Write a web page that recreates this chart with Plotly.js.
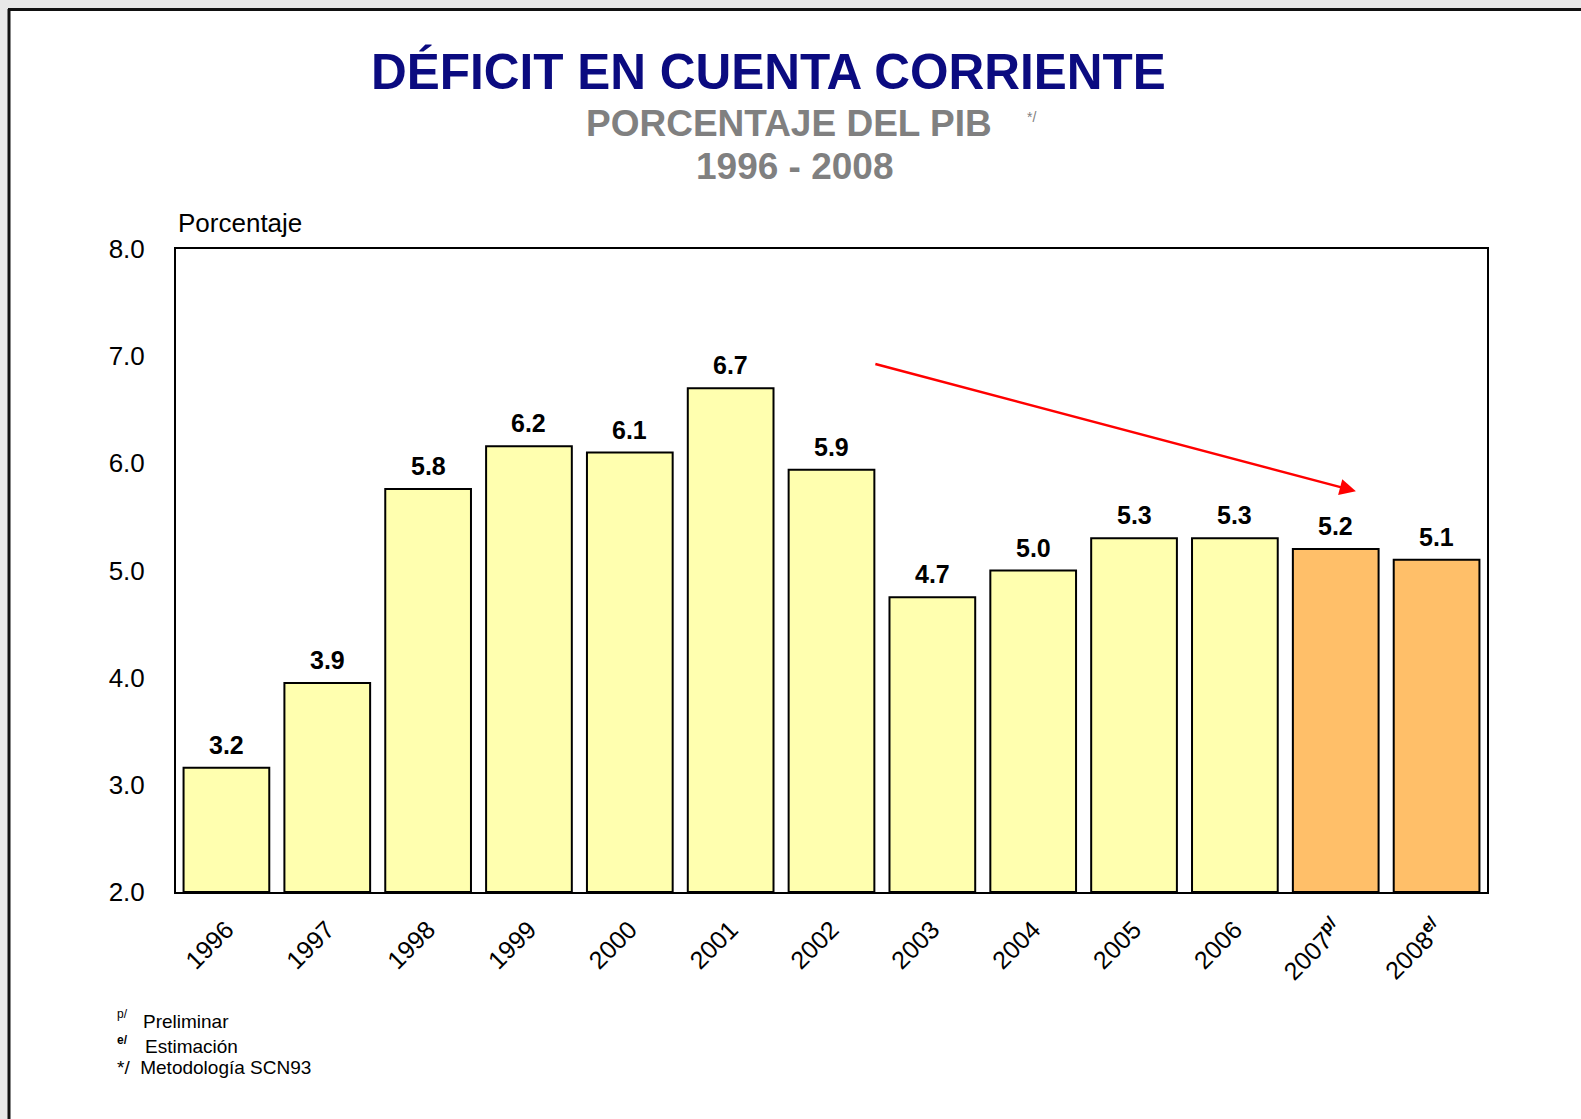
<!DOCTYPE html>
<html>
<head>
<meta charset="utf-8">
<script src="https://cdn.plot.ly/plotly-3.0.1.min.js"></script>
<style>html,body{margin:0;padding:0;background:#e8e8e8;}#chart{width:1581px;height:1119px;}</style>
</head>
<body>
<div id="chart"></div>
<script>
// ---- data ----
const years = ["1996","1997","1998","1999","2000","2001","2002","2003","2004","2005","2006","2007","2008"];
const tickLabels = ["1996","1997","1998","1999","2000","2001","2002","2003","2004","2005","2006","2007<sup><b>p/</b></sup>","2008<sup><b>e/</b></sup>"];
const deficit = [3.16, 3.95, 5.76, 6.16, 6.10, 6.70, 5.94, 4.75, 5.00, 5.30, 5.30, 5.20, 5.10];
const valueLabels = ["3.2","3.9","5.8","6.2","6.1","6.7","5.9","4.7","5.0","5.3","5.3","5.2","5.1"];
const status = ["final","final","final","final","final","final","final","final","final","final","final","prelim","estim"];
const yTicks = [2,3,4,5,6,7,8];
const trendArrow = {from: [6.42, 6.93], to: [11.2, 5.74]};

// ---- layout helpers ----
const W = 1581, H = 1119;
const M = {l: 176, r: 94, t: 249, b: 227};
const PW = W - M.l - M.r, PH = H - M.t - M.b;
const px = x => (x - M.l) / PW;
const py = y => (H - M.b - y) / PH;
const FONT = "Liberation Sans, Arial, sans-serif";

const colorFor = s => s === "final" ? "#FFFFAF" : "#FFBF69";

const bars = {
  type: "bar",
  x: years,
  y: deficit.map(v => v - 2),
  base: 2,
  marker: {color: status.map(colorFor), line: {color: "#000", width: 2}},
  hoverinfo: "skip"
};

const annotations = [];
years.forEach((yr, i) => {
  annotations.push({
    x: i, y: deficit[i], xref: "x", yref: "y",
    text: "<b>" + valueLabels[i] + "</b>", showarrow: false,
    yanchor: "bottom", yshift: 7,
    font: {family: FONT, size: 25, color: "#000"}
  });
});
// trend arrow
annotations.push({
  x: trendArrow.to[0], y: trendArrow.to[1], xref: "x", yref: "y",
  ax: trendArrow.from[0], ay: trendArrow.from[1], axref: "x", ayref: "y",
  text: "", showarrow: true, arrowhead: 2, arrowsize: 1.3, arrowwidth: 2.5,
  arrowcolor: "#ff0000", standoff: 0
});
function txt(text, x, y, size, color, opts) {
  annotations.push(Object.assign({
    text: text, x: px(x), y: py(y), xref: "paper", yref: "paper",
    showarrow: false, xanchor: "center", yanchor: "middle",
    font: {family: FONT, size: size, color: color}
  }, opts || {}));
}
txt("<b>DÉFICIT EN CUENTA CORRIENTE</b>", 768, 71, 49.5, "#0b0b80");
txt("<b>PORCENTAJE DEL PIB</b>", 789, 123, 37, "#808080");
txt("*/", 1031, 117, 14, "#808080");
txt("<b>1996 - 2008</b>", 795, 166, 37, "#808080");
txt("Porcentaje", 176, 223, 26, "#000", {xanchor: "left"});
txt("p/", 115, 1014, 12, "#000", {xanchor: "left"});
txt("Preliminar", 141, 1021, 19, "#000", {xanchor: "left"});
txt("<b>e/</b>", 115, 1040, 12, "#000", {xanchor: "left"});
txt("Estimación", 143, 1046, 19, "#000", {xanchor: "left"});
txt("*/  Metodología SCN93", 115, 1067, 19, "#000", {xanchor: "left"});

const shapes = [
  {type: "rect", xref: "paper", yref: "paper", x0: px(9), x1: px(W + 5), y0: py(9), y1: py(H + 5),
   fillcolor: "#ffffff", line: {width: 0}, layer: "below"},
  {type: "line", xref: "paper", yref: "paper", x0: px(9), x1: px(9), y0: py(9), y1: py(H + 5),
   line: {color: "#111", width: 3}, layer: "below"},
  {type: "line", xref: "paper", yref: "paper", x0: px(8), x1: px(W + 5), y0: py(9.5), y1: py(9.5),
   line: {color: "#111", width: 3}, layer: "below"}
];

const layout = {
  width: W, height: H,
  margin: M,
  paper_bgcolor: "#e8e8e8",
  plot_bgcolor: "#ffffff",
  font: {family: FONT, color: "#000"},
  showlegend: false,
  bargap: 0.15,
  xaxis: {
    type: "category", range: [-0.5, years.length - 0.5], autorange: false,
    tickmode: "array", tickvals: years, ticktext: tickLabels,
    tickangle: -45, tickfont: {size: 25, family: FONT},
    showline: true, linecolor: "#000", linewidth: 2, mirror: true,
    ticks: "", showgrid: false, ticklabelstandoff: 11, fixedrange: true
  },
  yaxis: {
    range: [2, 8], autorange: false, tickmode: "array", tickvals: yTicks, tickformat: ".1f",
    tickfont: {size: 26, family: FONT},
    showline: true, linecolor: "#000", linewidth: 2, mirror: true,
    ticks: "", showgrid: false, zeroline: false, ticklabelstandoff: 24, fixedrange: true
  },
  annotations: annotations,
  shapes: shapes
};

Plotly.newPlot("chart", [bars], layout, {staticPlot: true, displayModeBar: false});
</script>
</body>
</html>
